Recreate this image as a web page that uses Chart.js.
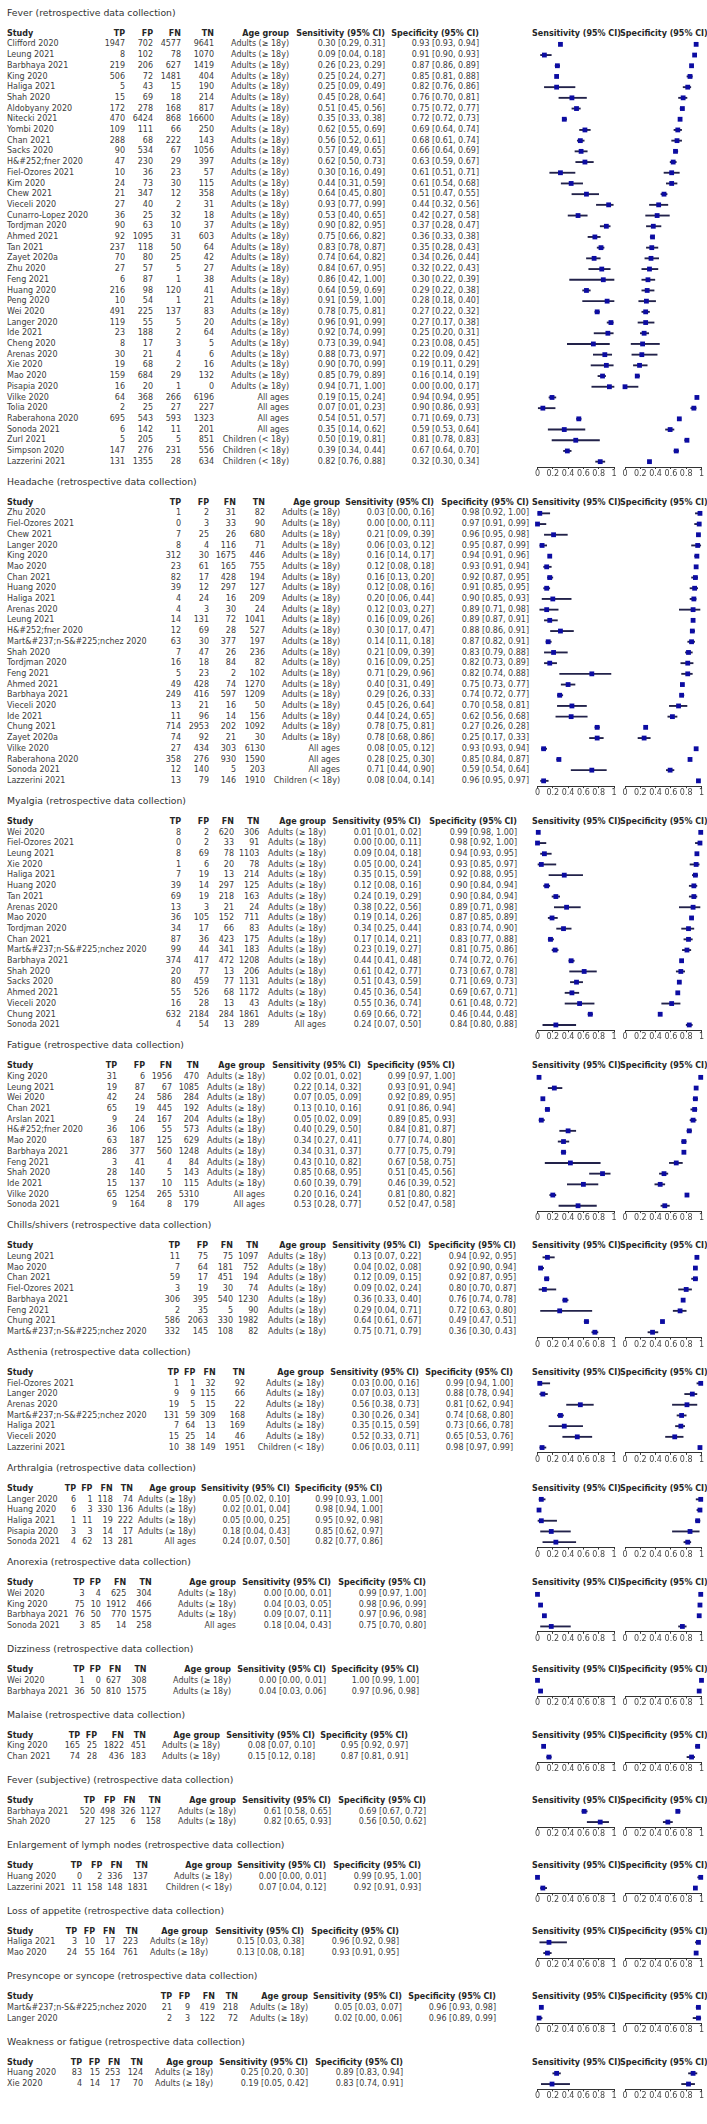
<!DOCTYPE html>
<html>
<head>
<meta charset="utf-8">
<script src="https://cdn.jsdelivr.net/npm/chart.js@4.4.0/dist/chart.umd.min.js"></script>
<style>
  body { margin: 0; background: #fff; width: 707px; height: 2124px; position: relative; overflow: hidden;
         font-family: "DejaVu Sans", Verdana, sans-serif; }
  .t { position: absolute; white-space: nowrap; font-size: 8px; line-height: 10px; color: #3c3c3c; }
  .h { font-weight: bold; color: #262626; }
  .title { font-size: 9.3px; line-height: 12px; color: #333; }
  .r { text-align: right; width: 200px; }
  canvas { position: absolute; }
</style>
</head>
<body>
<script>
const ADULT = 'Adults (\u2265 18y)', ALL = 'All ages', CHILD = 'Children (< 18y)';
const tickValues = [0, 0.2, 0.4, 0.6, 0.8, 1];
const columnNames = ['Study', 'TP', 'FP', 'FN', 'TN', 'Age group', 'Sensitivity (95% CI)', 'Specificity (95% CI)'];
const plotNames = ['Sensitivity (95% CI)', 'Specificity (95% CI)'];

// Fever
const feverStudies = ['Clifford 2020', 'Leung 2021', 'Barbhaya 2021', 'King 2020', 'Haliga 2021', 'Shah 2020', 'Aldobyany 2020',
  'Nitecki 2021', 'Yombi 2020', 'Chan 2021', 'Sacks 2020', 'H&#252;fner 2020', 'Fiel-Ozores 2021', 'Kim 2020', 'Chew 2021',
  'Vieceli 2020', 'Cunarro-Lopez 2020', 'Tordjman 2020', 'Ahmed 2021', 'Tan 2021', 'Zayet 2020a', 'Zhu 2020', 'Feng 2021',
  'Huang 2020', 'Peng 2020', 'Wei 2020', 'Langer 2020', 'Ide 2021', 'Cheng 2020', 'Arenas 2020', 'Xie 2020', 'Mao 2020',
  'Pisapia 2020', 'Vilke 2020', 'Tolia 2020', 'Raberahona 2020', 'Sonoda 2021', 'Zurl 2021', 'Simpson 2020', 'Lazzerini 2021'];
const feverCounts = [[1947, 702, 4577, 9641], [8, 102, 78, 1070], [219, 206, 627, 1419], [506, 72, 1481, 404], [5, 43, 15, 190],
  [15, 69, 18, 214], [172, 278, 168, 817], [470, 6424, 868, 16600], [109, 111, 66, 250], [288, 68, 222, 143], [90, 534, 67, 1056],
  [47, 230, 29, 397], [10, 36, 23, 57], [24, 73, 30, 115], [21, 347, 12, 358], [27, 40, 2, 31], [36, 25, 32, 18], [90, 63, 10, 37],
  [92, 1095, 31, 603], [237, 118, 50, 64], [70, 80, 25, 42], [27, 57, 5, 27], [6, 87, 1, 38], [216, 98, 120, 41], [10, 54, 1, 21],
  [491, 225, 137, 83], [119, 55, 5, 20], [23, 188, 2, 64], [8, 17, 3, 5], [30, 21, 4, 6], [19, 68, 2, 16], [159, 684, 29, 132],
  [16, 20, 1, 0], [64, 368, 266, 6196], [2, 25, 27, 227], [695, 543, 593, 1323], [6, 142, 11, 201], [5, 205, 5, 851],
  [147, 276, 231, 556], [131, 1355, 28, 634]];
const feverAges = [ADULT, ADULT, ADULT, ADULT, ADULT, ADULT, ADULT, ADULT, ADULT, ADULT, ADULT, ADULT, ADULT, ADULT, ADULT,
  ADULT, ADULT, ADULT, ADULT, ADULT, ADULT, ADULT, ADULT, ADULT, ADULT, ADULT, ADULT, ADULT, ADULT, ADULT, ADULT, ADULT,
  ADULT, ALL, ALL, ALL, ALL, CHILD, CHILD, CHILD];
const feverSens = [[0.30, 0.29, 0.31], [0.09, 0.04, 0.18], [0.26, 0.23, 0.29], [0.25, 0.24, 0.27], [0.25, 0.09, 0.49],
  [0.45, 0.28, 0.64], [0.51, 0.45, 0.56], [0.35, 0.33, 0.38], [0.62, 0.55, 0.69], [0.56, 0.52, 0.61], [0.57, 0.49, 0.65],
  [0.62, 0.50, 0.73], [0.30, 0.16, 0.49], [0.44, 0.31, 0.59], [0.64, 0.45, 0.80], [0.93, 0.77, 0.99], [0.53, 0.40, 0.65],
  [0.90, 0.82, 0.95], [0.75, 0.66, 0.82], [0.83, 0.78, 0.87], [0.74, 0.64, 0.82], [0.84, 0.67, 0.95], [0.86, 0.42, 1.00],
  [0.64, 0.59, 0.69], [0.91, 0.59, 1.00], [0.78, 0.75, 0.81], [0.96, 0.91, 0.99], [0.92, 0.74, 0.99], [0.73, 0.39, 0.94],
  [0.88, 0.73, 0.97], [0.90, 0.70, 0.99], [0.85, 0.79, 0.89], [0.94, 0.71, 1.00], [0.19, 0.15, 0.24], [0.07, 0.01, 0.23],
  [0.54, 0.51, 0.57], [0.35, 0.14, 0.62], [0.50, 0.19, 0.81], [0.39, 0.34, 0.44], [0.82, 0.76, 0.88]];
const feverSpec = [[0.93, 0.93, 0.94], [0.91, 0.90, 0.93], [0.87, 0.86, 0.89], [0.85, 0.81, 0.88], [0.82, 0.76, 0.86],
  [0.76, 0.70, 0.81], [0.75, 0.72, 0.77], [0.72, 0.72, 0.73], [0.69, 0.64, 0.74], [0.68, 0.61, 0.74], [0.66, 0.64, 0.69],
  [0.63, 0.59, 0.67], [0.61, 0.51, 0.71], [0.61, 0.54, 0.68], [0.51, 0.47, 0.55], [0.44, 0.32, 0.56], [0.42, 0.27, 0.58],
  [0.37, 0.28, 0.47], [0.36, 0.33, 0.38], [0.35, 0.28, 0.43], [0.34, 0.26, 0.44], [0.32, 0.22, 0.43], [0.30, 0.22, 0.39],
  [0.29, 0.22, 0.38], [0.28, 0.18, 0.40], [0.27, 0.22, 0.32], [0.27, 0.17, 0.38], [0.25, 0.20, 0.31], [0.23, 0.08, 0.45],
  [0.22, 0.09, 0.42], [0.19, 0.11, 0.29], [0.16, 0.14, 0.19], [0.00, 0.00, 0.17], [0.94, 0.94, 0.95], [0.90, 0.86, 0.93],
  [0.71, 0.69, 0.73], [0.59, 0.53, 0.64], [0.81, 0.78, 0.83], [0.67, 0.64, 0.70], [0.32, 0.30, 0.34]];

// Headache
const headacheStudies = ['Zhu 2020', 'Fiel-Ozores 2021', 'Chew 2021', 'Langer 2020', 'King 2020', 'Mao 2020', 'Chan 2021',
  'Huang 2020', 'Haliga 2021', 'Arenas 2020', 'Leung 2021', 'H&#252;fner 2020', 'Mart&#237;n-S&#225;nchez 2020', 'Shah 2020',
  'Tordjman 2020', 'Feng 2021', 'Ahmed 2021', 'Barbhaya 2021', 'Vieceli 2020', 'Ide 2021', 'Chung 2021', 'Zayet 2020a',
  'Vilke 2020', 'Raberahona 2020', 'Sonoda 2021', 'Lazzerini 2021'];
const headacheCounts = [[1, 2, 31, 82], [0, 3, 33, 90], [7, 25, 26, 680], [8, 4, 116, 71], [312, 30, 1675, 446], [23, 61, 165, 755],
  [82, 17, 428, 194], [39, 12, 297, 127], [4, 24, 16, 209], [4, 3, 30, 24], [14, 131, 72, 1041], [12, 69, 28, 527],
  [63, 30, 377, 197], [7, 47, 26, 236], [16, 18, 84, 82], [5, 23, 2, 102], [49, 428, 74, 1270], [249, 416, 597, 1209],
  [13, 21, 16, 50], [11, 96, 14, 156], [714, 2953, 202, 1092], [74, 92, 21, 30], [27, 434, 303, 6130], [358, 276, 930, 1590],
  [12, 140, 5, 203], [13, 79, 146, 1910]];
const headacheAges = [ADULT, ADULT, ADULT, ADULT, ADULT, ADULT, ADULT, ADULT, ADULT, ADULT, ADULT, ADULT, ADULT, ADULT,
  ADULT, ADULT, ADULT, ADULT, ADULT, ADULT, ADULT, ADULT, ALL, ALL, ALL, CHILD];
const headacheSens = [[0.03, 0.00, 0.16], [0.00, 0.00, 0.11], [0.21, 0.09, 0.39], [0.06, 0.03, 0.12], [0.16, 0.14, 0.17],
  [0.12, 0.08, 0.18], [0.16, 0.13, 0.20], [0.12, 0.08, 0.16], [0.20, 0.06, 0.44], [0.12, 0.03, 0.27], [0.16, 0.09, 0.26],
  [0.30, 0.17, 0.47], [0.14, 0.11, 0.18], [0.21, 0.09, 0.39], [0.16, 0.09, 0.25], [0.71, 0.29, 0.96], [0.40, 0.31, 0.49],
  [0.29, 0.26, 0.33], [0.45, 0.26, 0.64], [0.44, 0.24, 0.65], [0.78, 0.75, 0.81], [0.78, 0.68, 0.86], [0.08, 0.05, 0.12],
  [0.28, 0.25, 0.30], [0.71, 0.44, 0.90], [0.08, 0.04, 0.14]];
const headacheSpec = [[0.98, 0.92, 1.00], [0.97, 0.91, 0.99], [0.96, 0.95, 0.98], [0.95, 0.87, 0.99], [0.94, 0.91, 0.96],
  [0.93, 0.91, 0.94], [0.92, 0.87, 0.95], [0.91, 0.85, 0.95], [0.90, 0.85, 0.93], [0.89, 0.71, 0.98], [0.89, 0.87, 0.91],
  [0.88, 0.86, 0.91], [0.87, 0.82, 0.91], [0.83, 0.79, 0.88], [0.82, 0.73, 0.89], [0.82, 0.74, 0.88], [0.75, 0.73, 0.77],
  [0.74, 0.72, 0.77], [0.70, 0.58, 0.81], [0.62, 0.56, 0.68], [0.27, 0.26, 0.28], [0.25, 0.17, 0.33], [0.93, 0.93, 0.94],
  [0.85, 0.84, 0.87], [0.59, 0.54, 0.64], [0.96, 0.95, 0.97]];

// Myalgia
const myalgiaStudies = ['Wei 2020', 'Fiel-Ozores 2021', 'Leung 2021', 'Xie 2020', 'Haliga 2021', 'Huang 2020', 'Tan 2021',
  'Arenas 2020', 'Mao 2020', 'Tordjman 2020', 'Chan 2021', 'Mart&#237;n-S&#225;nchez 2020', 'Barbhaya 2021', 'Shah 2020',
  'Sacks 2020', 'Ahmed 2021', 'Vieceli 2020', 'Chung 2021', 'Sonoda 2021'];
const myalgiaCounts = [[8, 2, 620, 306], [0, 2, 33, 91], [8, 69, 78, 1103], [1, 6, 20, 78], [7, 19, 13, 214], [39, 14, 297, 125],
  [69, 19, 218, 163], [13, 3, 21, 24], [36, 105, 152, 711], [34, 17, 66, 83], [87, 36, 423, 175], [99, 44, 341, 183],
  [374, 417, 472, 1208], [20, 77, 13, 206], [80, 459, 77, 1131], [55, 526, 68, 1172], [16, 28, 13, 43], [632, 2184, 284, 1861],
  [4, 54, 13, 289]];
const myalgiaAges = [ADULT, ADULT, ADULT, ADULT, ADULT, ADULT, ADULT, ADULT, ADULT, ADULT, ADULT, ADULT, ADULT, ADULT,
  ADULT, ADULT, ADULT, ADULT, ALL];
const myalgiaSens = [[0.01, 0.01, 0.02], [0.00, 0.00, 0.11], [0.09, 0.04, 0.18], [0.05, 0.00, 0.24], [0.35, 0.15, 0.59],
  [0.12, 0.08, 0.16], [0.24, 0.19, 0.29], [0.38, 0.22, 0.56], [0.19, 0.14, 0.26], [0.34, 0.25, 0.44], [0.17, 0.14, 0.21],
  [0.23, 0.19, 0.27], [0.44, 0.41, 0.48], [0.61, 0.42, 0.77], [0.51, 0.43, 0.59], [0.45, 0.36, 0.54], [0.55, 0.36, 0.74],
  [0.69, 0.66, 0.72], [0.24, 0.07, 0.50]];
const myalgiaSpec = [[0.99, 0.98, 1.00], [0.98, 0.92, 1.00], [0.94, 0.93, 0.95], [0.93, 0.85, 0.97], [0.92, 0.88, 0.95],
  [0.90, 0.84, 0.94], [0.90, 0.84, 0.94], [0.89, 0.71, 0.98], [0.87, 0.85, 0.89], [0.83, 0.74, 0.90], [0.83, 0.77, 0.88],
  [0.81, 0.75, 0.86], [0.74, 0.72, 0.76], [0.73, 0.67, 0.78], [0.71, 0.69, 0.73], [0.69, 0.67, 0.71], [0.61, 0.48, 0.72],
  [0.46, 0.44, 0.48], [0.84, 0.80, 0.88]];

// Fatigue
const fatigueStudies = ['King 2020', 'Leung 2021', 'Wei 2020', 'Chan 2021', 'Arslan 2021', 'H&#252;fner 2020', 'Mao 2020',
  'Barbhaya 2021', 'Feng 2021', 'Shah 2020', 'Ide 2021', 'Vilke 2020', 'Sonoda 2021'];
const fatigueCounts = [[31, 6, 1956, 470], [19, 87, 67, 1085], [42, 24, 586, 284], [65, 19, 445, 192], [9, 24, 167, 204],
  [36, 106, 55, 573], [63, 187, 125, 629], [286, 377, 560, 1248], [3, 41, 4, 84], [28, 140, 5, 143], [15, 137, 10, 115],
  [65, 1254, 265, 5310], [9, 164, 8, 179]];
const fatigueAges = [ADULT, ADULT, ADULT, ADULT, ADULT, ADULT, ADULT, ADULT, ADULT, ADULT, ADULT, ALL, ALL];
const fatigueSens = [[0.02, 0.01, 0.02], [0.22, 0.14, 0.32], [0.07, 0.05, 0.09], [0.13, 0.10, 0.16], [0.05, 0.02, 0.09],
  [0.40, 0.29, 0.50], [0.34, 0.27, 0.41], [0.34, 0.31, 0.37], [0.43, 0.10, 0.82], [0.85, 0.68, 0.95], [0.60, 0.39, 0.79],
  [0.20, 0.16, 0.24], [0.53, 0.28, 0.77]];
const fatigueSpec = [[0.99, 0.97, 1.00], [0.93, 0.91, 0.94], [0.92, 0.89, 0.95], [0.91, 0.86, 0.94], [0.89, 0.85, 0.93],
  [0.84, 0.81, 0.87], [0.77, 0.74, 0.80], [0.77, 0.75, 0.79], [0.67, 0.58, 0.75], [0.51, 0.45, 0.56], [0.46, 0.39, 0.52],
  [0.81, 0.80, 0.82], [0.52, 0.47, 0.58]];

// Chills/shivers
const chillsStudies = ['Leung 2021', 'Mao 2020', 'Chan 2021', 'Fiel-Ozores 2021', 'Barbhaya 2021', 'Feng 2021', 'Chung 2021',
  'Mart&#237;n-S&#225;nchez 2020'];
const chillsCounts = [[11, 75, 75, 1097], [7, 64, 181, 752], [59, 17, 451, 194], [3, 19, 30, 74], [306, 395, 540, 1230],
  [2, 35, 5, 90], [586, 2063, 330, 1982], [332, 145, 108, 82]];
const chillsAges = [ADULT, ADULT, ADULT, ADULT, ADULT, ADULT, ADULT, ADULT];
const chillsSens = [[0.13, 0.07, 0.22], [0.04, 0.02, 0.08], [0.12, 0.09, 0.15], [0.09, 0.02, 0.24], [0.36, 0.33, 0.40],
  [0.29, 0.04, 0.71], [0.64, 0.61, 0.67], [0.75, 0.71, 0.79]];
const chillsSpec = [[0.94, 0.92, 0.95], [0.92, 0.90, 0.94], [0.92, 0.87, 0.95], [0.80, 0.70, 0.87], [0.76, 0.74, 0.78],
  [0.72, 0.63, 0.80], [0.49, 0.47, 0.51], [0.36, 0.30, 0.43]];

// Asthenia
const astheniaStudies = ['Fiel-Ozores 2021', 'Langer 2020', 'Arenas 2020', 'Mart&#237;n-S&#225;nchez 2020', 'Haliga 2021',
  'Vieceli 2020', 'Lazzerini 2021'];
const astheniaCounts = [[1, 1, 32, 92], [9, 9, 115, 66], [19, 5, 15, 22], [131, 59, 309, 168], [7, 64, 13, 169], [15, 25, 14, 46],
  [10, 38, 149, 1951]];
const astheniaAges = [ADULT, ADULT, ADULT, ADULT, ADULT, ADULT, CHILD];
const astheniaSens = [[0.03, 0.00, 0.16], [0.07, 0.03, 0.13], [0.56, 0.38, 0.73], [0.30, 0.26, 0.34], [0.35, 0.15, 0.59],
  [0.52, 0.33, 0.71], [0.06, 0.03, 0.11]];
const astheniaSpec = [[0.99, 0.94, 1.00], [0.88, 0.78, 0.94], [0.81, 0.62, 0.94], [0.74, 0.68, 0.80], [0.73, 0.66, 0.78],
  [0.65, 0.53, 0.76], [0.98, 0.97, 0.99]];

// Arthralgia
const arthralgiaStudies = ['Langer 2020', 'Huang 2020', 'Haliga 2021', 'Pisapia 2020', 'Sonoda 2021'];
const arthralgiaCounts = [[6, 1, 118, 74], [6, 3, 330, 136], [1, 11, 19, 222], [3, 3, 14, 17], [4, 62, 13, 281]];
const arthralgiaAges = [ADULT, ADULT, ADULT, ADULT, ALL];
const arthralgiaSens = [[0.05, 0.02, 0.10], [0.02, 0.01, 0.04], [0.05, 0.00, 0.25], [0.18, 0.04, 0.43], [0.24, 0.07, 0.50]];
const arthralgiaSpec = [[0.99, 0.93, 1.00], [0.98, 0.94, 1.00], [0.95, 0.92, 0.98], [0.85, 0.62, 0.97], [0.82, 0.77, 0.86]];

// Anorexia
const anorexiaStudies = ['Wei 2020', 'King 2020', 'Barbhaya 2021', 'Sonoda 2021'];
const anorexiaCounts = [[3, 4, 625, 304], [75, 10, 1912, 466], [76, 50, 770, 1575], [3, 85, 14, 258]];
const anorexiaAges = [ADULT, ADULT, ADULT, ALL];
const anorexiaSens = [[0.00, 0.00, 0.01], [0.04, 0.03, 0.05], [0.09, 0.07, 0.11], [0.18, 0.04, 0.43]];
const anorexiaSpec = [[0.99, 0.97, 1.00], [0.98, 0.96, 0.99], [0.97, 0.96, 0.98], [0.75, 0.70, 0.80]];

// Dizziness
const dizzinessStudies = ['Wei 2020', 'Barbhaya 2021'];
const dizzinessCounts = [[1, 0, 627, 308], [36, 50, 810, 1575]];
const dizzinessAges = [ADULT, ADULT];
const dizzinessSens = [[0.00, 0.00, 0.01], [0.04, 0.03, 0.06]];
const dizzinessSpec = [[1.00, 0.99, 1.00], [0.97, 0.96, 0.98]];

// Malaise
const malaiseStudies = ['King 2020', 'Chan 2021'];
const malaiseCounts = [[165, 25, 1822, 451], [74, 28, 436, 183]];
const malaiseAges = [ADULT, ADULT];
const malaiseSens = [[0.08, 0.07, 0.10], [0.15, 0.12, 0.18]];
const malaiseSpec = [[0.95, 0.92, 0.97], [0.87, 0.81, 0.91]];

// Fever (subjective)
const feverSubjStudies = ['Barbhaya 2021', 'Shah 2020'];
const feverSubjCounts = [[520, 498, 326, 1127], [27, 125, 6, 158]];
const feverSubjAges = [ADULT, ADULT];
const feverSubjSens = [[0.61, 0.58, 0.65], [0.82, 0.65, 0.93]];
const feverSubjSpec = [[0.69, 0.67, 0.72], [0.56, 0.50, 0.62]];

// Enlargement of lymph nodes
const lymphStudies = ['Huang 2020', 'Lazzerini 2021'];
const lymphCounts = [[0, 2, 336, 137], [11, 158, 148, 1831]];
const lymphAges = [ADULT, CHILD];
const lymphSens = [[0.00, 0.00, 0.01], [0.07, 0.04, 0.12]];
const lymphSpec = [[0.99, 0.95, 1.00], [0.92, 0.91, 0.93]];

// Loss of appetite
const appetiteStudies = ['Haliga 2021', 'Mao 2020'];
const appetiteCounts = [[3, 10, 17, 223], [24, 55, 164, 761]];
const appetiteAges = [ADULT, ADULT];
const appetiteSens = [[0.15, 0.03, 0.38], [0.13, 0.08, 0.18]];
const appetiteSpec = [[0.96, 0.92, 0.98], [0.93, 0.91, 0.95]];

// Presyncope or syncope
const syncopeStudies = ['Mart&#237;n-S&#225;nchez 2020', 'Langer 2020'];
const syncopeCounts = [[21, 9, 419, 218], [2, 3, 122, 72]];
const syncopeAges = [ADULT, ADULT];
const syncopeSens = [[0.05, 0.03, 0.07], [0.02, 0.00, 0.06]];
const syncopeSpec = [[0.96, 0.93, 0.98], [0.96, 0.89, 0.99]];

// Weakness or fatigue
const weaknessStudies = ['Huang 2020', 'Xie 2020'];
const weaknessCounts = [[83, 15, 253, 124], [4, 14, 17, 70]];
const weaknessAges = [ADULT, ADULT];
const weaknessSens = [[0.25, 0.20, 0.30], [0.19, 0.05, 0.42]];
const weaknessSpec = [[0.89, 0.83, 0.94], [0.83, 0.74, 0.91]];

const sections = [
  { title: 'Fever (retrospective data collection)', studies: feverStudies, counts: feverCounts, ages: feverAges, sens: feverSens, spec: feverSpec },
  { title: 'Headache (retrospective data collection)', studies: headacheStudies, counts: headacheCounts, ages: headacheAges, sens: headacheSens, spec: headacheSpec },
  { title: 'Myalgia (retrospective data collection)', studies: myalgiaStudies, counts: myalgiaCounts, ages: myalgiaAges, sens: myalgiaSens, spec: myalgiaSpec },
  { title: 'Fatigue (retrospective data collection)', studies: fatigueStudies, counts: fatigueCounts, ages: fatigueAges, sens: fatigueSens, spec: fatigueSpec },
  { title: 'Chills/shivers (retrospective data collection)', studies: chillsStudies, counts: chillsCounts, ages: chillsAges, sens: chillsSens, spec: chillsSpec },
  { title: 'Asthenia (retrospective data collection)', studies: astheniaStudies, counts: astheniaCounts, ages: astheniaAges, sens: astheniaSens, spec: astheniaSpec },
  { title: 'Arthralgia (retrospective data collection)', studies: arthralgiaStudies, counts: arthralgiaCounts, ages: arthralgiaAges, sens: arthralgiaSens, spec: arthralgiaSpec },
  { title: 'Anorexia (retrospective data collection)', studies: anorexiaStudies, counts: anorexiaCounts, ages: anorexiaAges, sens: anorexiaSens, spec: anorexiaSpec },
  { title: 'Dizziness (retrospective data collection)', studies: dizzinessStudies, counts: dizzinessCounts, ages: dizzinessAges, sens: dizzinessSens, spec: dizzinessSpec },
  { title: 'Malaise (retrospective data collection)', studies: malaiseStudies, counts: malaiseCounts, ages: malaiseAges, sens: malaiseSens, spec: malaiseSpec },
  { title: 'Fever (subjective) (retrospective data collection)', studies: feverSubjStudies, counts: feverSubjCounts, ages: feverSubjAges, sens: feverSubjSens, spec: feverSubjSpec },
  { title: 'Enlargement of lymph nodes (retrospective data collection)', studies: lymphStudies, counts: lymphCounts, ages: lymphAges, sens: lymphSens, spec: lymphSpec },
  { title: 'Loss of appetite (retrospective data collection)', studies: appetiteStudies, counts: appetiteCounts, ages: appetiteAges, sens: appetiteSens, spec: appetiteSpec },
  { title: 'Presyncope or syncope (retrospective data collection)', studies: syncopeStudies, counts: syncopeCounts, ages: syncopeAges, sens: syncopeSens, spec: syncopeSpec },
  { title: 'Weakness or fatigue (retrospective data collection)', studies: weaknessStudies, counts: weaknessCounts, ages: weaknessAges, sens: weaknessSens, spec: weaknessSpec }
];

// layout: approximate right edge (px) of TP, FP, FN, TN, age, sensitivity, specificity columns per section
const columnRight = [
  [125, 153, 181, 214, 289, 385, 479],
  [181, 209, 236, 265, 340, 434, 529],
  [181, 209, 234, 259, 326, 421, 517],
  [117, 145, 172, 199, 265, 361, 455],
  [180, 208, 233, 258, 326, 421, 516],
  [179, 193, 213, 245, 324, 419, 513],
  [72, 86, 104, 121, 183, 277, 373],
  [84, 99, 124, 147, 236, 331, 426],
  [84, 99, 119, 145, 231, 326, 419],
  [80, 97, 124, 146, 220, 315, 408],
  [95, 113, 131, 159, 236, 331, 426],
  [82, 100, 121, 147, 232, 326, 421],
  [77, 95, 115, 138, 208, 304, 399],
  [172, 190, 215, 238, 308, 401, 496],
  [82, 100, 120, 143, 213, 308, 403]
];

const ROW = 10.7;
const FONT = '"DejaVu Sans", Verdana, sans-serif';
const BLUE = '#0c0ca2';
const CI_COLOR = '#22224a';
const AXIS_COLOR = '#333';
Chart.defaults.font.family = FONT;

const fmt = v => v[0].toFixed(2) + ' [' + v[1].toFixed(2) + ', ' + v[2].toFixed(2) + ']';
const mctx = document.createElement('canvas').getContext('2d');
const textW = (str, bold) => { mctx.font = (bold ? 'bold ' : '') + '8px ' + FONT; return mctx.measureText(str).width; };

function addText(str, x, y, cls, right) {
  const d = document.createElement('div');
  d.className = 't' + (cls ? ' ' + cls : '') + (right ? ' r' : '');
  d.textContent = str;
  const lh = cls === 'title' ? 12 : 10;
  d.style.top = (y - lh / 2) + 'px';
  d.style.left = (right ? x - 200 : x) + 'px';
  document.body.appendChild(d);
}

function forestPlot(labels, values, left, width, padL, top) {
  const n = labels.length;
  const plotW = 76.5;
  const h = Math.ceil(n * ROW + 13);
  const c = document.createElement('canvas');
  c.width = width; c.height = h;
  c.style.left = left + 'px'; c.style.top = top + 'px';
  c.style.width = width + 'px'; c.style.height = h + 'px';
  document.body.appendChild(c);
  return new Chart(c, {
    type: 'bar',
    data: {
      labels: labels,
      datasets: [{
        type: 'scatter',
        data: values.map((v, i) => ({ x: v[0], y: labels[i] })),
        pointStyle: 'rect',
        pointRadius: 3.4,
        pointHoverRadius: 3.4,
        backgroundColor: BLUE,
        borderWidth: 0,
        clip: false,
        order: 0
      }, {
        type: 'bar',
        data: values.map(v => [v[1], v[2]]),
        backgroundColor: CI_COLOR,
        barThickness: 1.2,
        borderWidth: 0,
        clip: false,
        order: 1
      }]
    },
    options: {
      indexAxis: 'y',
      responsive: false,
      animation: false,
      events: [],
      layout: { autoPadding: false, padding: { left: padL, right: width - padL - plotW, top: 0, bottom: 0 } },
      plugins: { legend: { display: false }, tooltip: { enabled: false } },
      scales: {
        y: { type: 'category', display: false, offset: true },
        x: {
          type: 'linear', min: 0, max: 1,
          afterBuildTicks: s => { s.ticks = tickValues.map(v => ({ value: v })); },
          afterFit: s => { s.height = h - n * ROW; },
          grid: { display: true, drawOnChartArea: false, drawTicks: true, tickLength: 2, color: AXIS_COLOR },
          border: { display: true, color: AXIS_COLOR, width: 1 },
          ticks: { font: { size: 8, lineHeight: 1 }, color: '#444', padding: 1, maxRotation: 0, autoSkip: false,
                   callback: v => String(v) }
        }
      }
    }
  });
}

let H = 12.7;
sections.forEach((s, k) => {
  const n = s.studies.length;
  // column right edges, pushed right where text would otherwise collide
  const colTexts = [0, 1, 2, 3].map(j => s.counts.map(c => String(c[j])));
  colTexts.push(s.ages, s.sens.map(fmt), s.spec.map(fmt));
  let prev = 7 + Math.max(textW(columnNames[0], true), ...s.studies.map(t => textW(t)));
  const cols = columnRight[k].map((x, j) => {
    const w = Math.max(textW(columnNames[j + 1], true), ...colTexts[j].map(t => textW(t)));
    prev = Math.max(x, prev + 5 + w);
    return prev;
  });

  addText(s.title, 7, H, 'title');
  const hy = H + 21;
  addText(columnNames[0], 7, hy, 'h');
  columnNames.slice(1).forEach((c, j) => addText(c, cols[j], hy, 'h', true));
  addText(plotNames[0], 532, hy, 'h');
  addText(plotNames[1], 620, hy, 'h');
  s.studies.forEach((name, i) => {
    const y = hy + ROW * (i + 1);
    addText(name, 7, y);
    s.counts[i].forEach((v, j) => addText(String(v), cols[j], y, '', true));
    addText(s.ages[i], cols[4], y, '', true);
    addText(fmt(s.sens[i]), cols[5], y, '', true);
    addText(fmt(s.spec[i]), cols[6], y, '', true);
  });
  forestPlot(s.studies, s.sens, 529, 90, 8.5, hy + ROW / 2);
  forestPlot(s.studies, s.spec, 619, 88, 6, hy + ROW / 2);
  H = hy + ROW * n + 20 + (n <= 4 ? 3 : 0);
});
</script>
</body>
</html>
